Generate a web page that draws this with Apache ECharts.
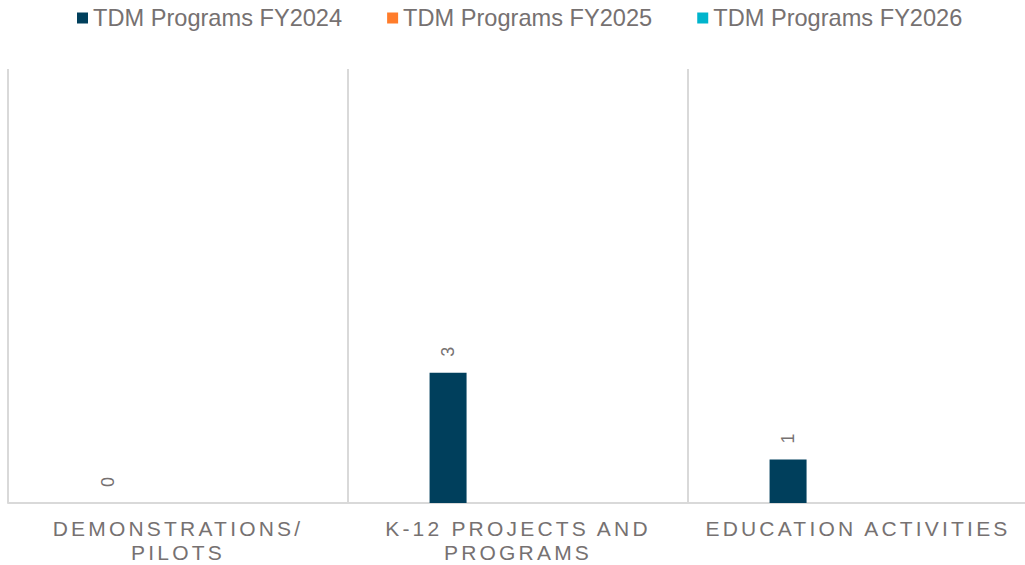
<!DOCTYPE html>
<html><head><meta charset="utf-8">
<script src="https://cdn.jsdelivr.net/npm/echarts@6/dist/echarts.min.js"></script>
<style>html,body{margin:0;padding:0;background:#fff;overflow:hidden}#c{width:1025px;height:565px}
#c text[style*="21px"]{letter-spacing:3.2px}</style>
</head><body><div id="c"></div>
<script>
const categories = ['DEMONSTRATIONS/\nPILOTS', 'K-12 PROJECTS AND\nPROGRAMS', 'EDUCATION ACTIVITIES'];
const seriesNames = ['TDM Programs FY2024', 'TDM Programs FY2025', 'TDM Programs FY2026'];
const fy2024 = [0, 3, 1];
const fy2025 = [null, null, null];
const fy2026 = [null, null, null];
const colors = ['#003f5c', '#ff7c2b', '#00b4cc'];
const values = [fy2024, fy2025, fy2026];

const chart = echarts.init(document.getElementById('c'), null, { renderer: 'svg' });
const font = '"Liberation Sans", Arial, sans-serif';
chart.setOption({
  animation: false,
  textStyle: { fontFamily: font },
  legend: {
    top: 6, left: 77, padding: 0,
    itemWidth: 11, itemHeight: 11, itemGap: 45,
    icon: 'rect',
    textStyle: { fontSize: 23.6, color: '#767171', fontFamily: font },
    data: seriesNames
  },
  grid: { left: 8, width: 1020, top: 69, height: 434, containLabel: false, outerBoundsMode: 'none' },
  xAxis: {
    type: 'category', data: categories,
    axisLine: { show: true, lineStyle: { color: '#d9d9d9', width: 2 } },
    axisTick: { show: false },
    splitLine: { show: true, lineStyle: { color: ['#d9d9d9', '#d9d9d9', '#d9d9d9', 'rgba(0,0,0,0)'], width: 2 } },
    axisLabel: { color: '#767171', fontSize: 21, lineHeight: 24, margin: 13, fontFamily: font, interval: 0 }
  },
  yAxis: {
    type: 'value', min: 0, max: 10,
    show: false, splitLine: { show: false }
  },
  series: values.map((d, i) => ({
    name: seriesNames[i], type: 'bar', data: d,
    barWidth: 37, barGap: '89%',
    itemStyle: { color: colors[i] },
    label: { show: true, position: 'top', rotate: 90, distance: 21, color: '#767171', fontSize: 18, fontFamily: font,
             align: 'center', verticalAlign: 'middle' }
  }))
});
</script></body></html>
